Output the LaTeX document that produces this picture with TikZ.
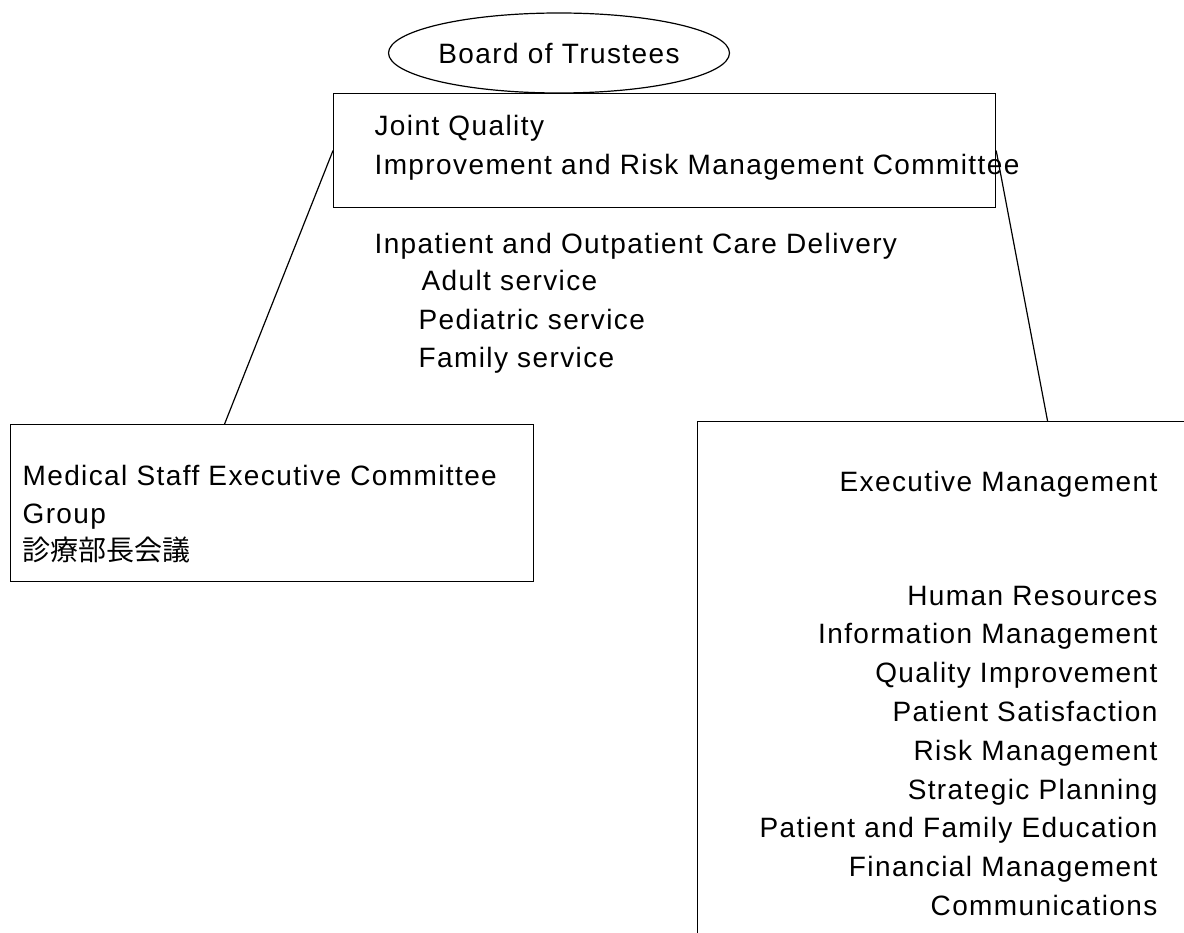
\documentclass[tikz,border=0pt]{standalone}
\usepackage{fontspec}
\setmainfont{Liberation Sans}[LetterSpace=5]
\newfontfamily\jpfont{Noto Sans CJK JP}
\usetikzlibrary{shapes.geometric}

\begin{document}
\begin{tikzpicture}
  [x=1pt,y=-1pt,line width=1.2pt,
   every node/.style={font=\fontsize{28}{38.8}\selectfont,inner sep=0pt},
   box/.style={draw,rectangle,anchor=north west},
   txt/.style={anchor=base west},
   rtxt/.style={anchor=base east}]
  \useasboundingbox (0,0) rectangle (1184,933);
  \clip (0,0) rectangle (1184,933);

  % boxes
  \node[draw,ellipse,minimum width=292pt,minimum height=80pt] (board) at (559,53) {Board of Trustees};
  \node[box,fill=white,minimum width=662pt,minimum height=114pt] (jqc) at (333,93) {};
  \node[box,minimum width=523pt,minimum height=157pt] (msec) at (10,424) {};
  \node[box,minimum width=560pt,minimum height=560pt] (exec) at (697,421) {};

  % texts
  \node[txt] (jq1) at (374,136) {Joint Quality};
  \node[txt] (jq2) at (374,175) {Improvement and Risk Management Committee};
  \node[txt] (care) at (374,254) {Inpatient and Outpatient Care Delivery};
  \node[txt] (adult) at (421,291) {Adult service};
  \node[txt] (ped) at (418,330) {Pediatric service};
  \node[txt] (fam) at (418,367) {Family service};

  \node[txt] (ms1) at (22,485) {Medical Staff Executive Committee};
  \node[txt] (ms2) at (22,523) {Group};
  \node[txt,font=\fontsize{28}{38.8}\selectfont\jpfont] (ms3) at (22,560) {診療部長会議};

  \node[rtxt] (em) at (1158,491) {Executive Management};
  \foreach \t [count=\i from 0] in {Human Resources, Information Management,
      Quality Improvement, Patient Satisfaction, Risk Management,
      Strategic Planning, Patient and Family Education,
      Financial Management, Communications}
    \node[rtxt] (area\i) at (1158,{605+38.8*\i}) {\t};

  \foreach \from/\to in {jqc.west/msec.121.7, jqc.east/exec.76}
    \draw (\from) -- (\to);
\end{tikzpicture}
\end{document}
